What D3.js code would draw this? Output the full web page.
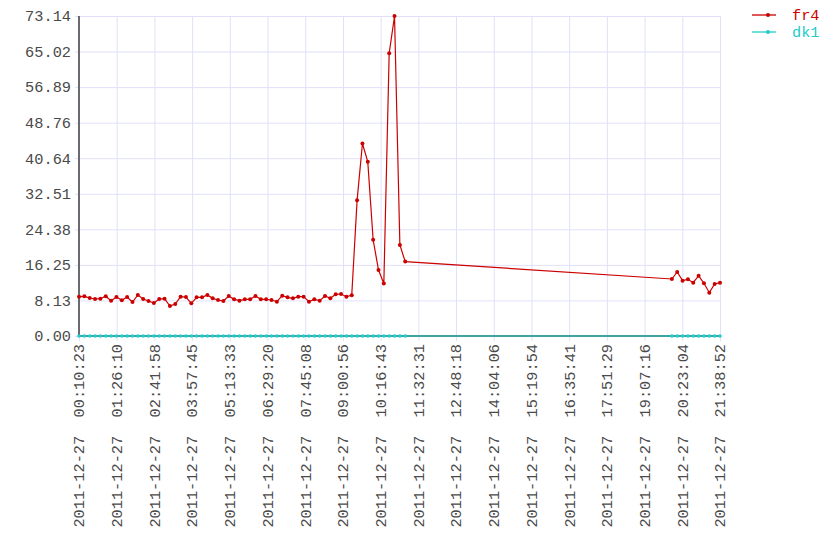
<!DOCTYPE html>
<html>
<head>
<meta charset="utf-8">
<script src="https://cdn.jsdelivr.net/npm/d3@7"></script>
<style>
    body { margin: 0; background: #fff; }
    svg text { font-family: "Liberation Mono", "DejaVu Sans Mono", monospace; fill: #4a4a4a; white-space: pre; }
</style>
</head>
<body>
<svg id="chart" width="840" height="560"></svg>
<script>
// Sample times (2011-12-27) and values for fr4
var fr4Times = [
    "00:10:23","00:21:08","00:31:53","00:42:38","00:53:23","01:04:08","01:14:53","01:25:38",
    "01:36:23","01:47:08","01:57:53","02:08:38","02:19:23","02:30:08","02:40:53","02:51:38",
    "03:02:23","03:13:08","03:23:53","03:34:38","03:45:23","03:56:08","04:06:53","04:17:38",
    "04:28:23","04:39:08","04:49:53","05:00:38","05:11:23","05:22:08","05:32:53","05:43:38",
    "05:54:23","06:05:08","06:15:53","06:26:38","06:37:23","06:48:08","06:58:53","07:09:38",
    "07:20:23","07:31:08","07:41:53","07:52:38","08:03:23","08:14:08","08:24:53","08:35:38",
    "08:46:23","08:57:08","09:07:53","09:18:38","09:29:23","09:40:08","09:50:53","10:01:38",
    "10:12:23","10:23:08","10:33:53","10:44:38","10:55:23","11:06:08",
    "20:02:07","20:12:52","20:23:37","20:34:22","20:45:07","20:55:52","21:06:37","21:17:22",
    "21:28:07","21:38:52"
];

var fr4Values = [
    8.99, 9.07, 8.69, 8.46, 8.53, 9.07, 8.07, 8.91,
    8.15, 8.91, 7.77, 9.37, 8.46, 8.00, 7.54, 8.46,
    8.53, 6.86, 7.31, 8.99, 8.91, 7.47, 8.84, 8.84,
    9.37, 8.61, 8.23, 8.00, 9.14, 8.38, 8.07, 8.38,
    8.38, 9.14, 8.38, 8.38, 8.23, 7.85, 9.22, 8.84,
    8.61, 8.99, 8.99, 7.85, 8.38, 8.07, 9.14, 8.61,
    9.52, 9.60, 8.99, 9.29, 31.0, 44.0, 39.8, 22.0,
    15.1, 12.0, 64.6, 73.14, 20.8, 17.0,
    13.03, 14.63, 12.65, 12.95, 12.19, 13.79, 12.04, 9.90,
    11.89, 12.19
];

// dk1 sits at zero over the same samples
var dk1Values = [
    0,0,0,0,0,0,0,0, 0,0,0,0,0,0,0,0, 0,0,0,0,0,0,0,0, 0,0,0,0,0,0,0,0,
    0,0,0,0,0,0,0,0, 0,0,0,0,0,0,0,0, 0,0,0,0,0,0,0,0, 0,0,0,0,0,0,
    0,0,0,0,0,0,0,0, 0,0
];

var yTicks = [0.00, 8.13, 16.25, 24.38, 32.51, 40.64, 48.76, 56.89, 65.02, 73.14];

var xTickLabels = [
    "00:10:23","01:26:10","02:41:58","03:57:45","05:13:33","06:29:20",
    "07:45:08","09:00:56","10:16:43","11:32:31","12:48:18","14:04:06",
    "15:19:54","16:35:41","17:51:29","19:07:16","20:23:04","21:38:52"
];

var seriesNames = ["fr4", "dk1"];
var seriesColors = ["#cc0000", "#22cccc"];

var parseTime = d3.timeParse("%Y-%m-%d %H:%M:%S");
var fmt = d3.timeFormat("%Y-%m-%d  %H:%M:%S");
var day = "2011-12-27 ";

var times = fr4Times.map(function(t) { return parseTime(day + t); });
var tickDates = xTickLabels.map(function(t) { return parseTime(day + t); });

const margin = {top: 16, left: 79, right: 120, bottom: 224};
const width = 840 - margin.left - margin.right;
const height = 560 - margin.top - margin.bottom;

var x = d3.scaleTime()
    .domain([tickDates[0], tickDates[tickDates.length - 1]])
    .range([0, width]);

var y = d3.scaleLinear()
    .domain([0, 73.14])
    .range([height, 0]);

var svg = d3.select("#chart")
    .append("g")
    .attr("transform", `translate(${margin.left}, ${margin.top})`);

// Grid + ticks
var gridColor = "#e0e0fa";

svg.append("g")
    .call(d3.axisBottom(x).tickValues(tickDates).tickSize(-height - 5).tickFormat(""))
    .attr("transform", `translate(0, ${height + 5})`)
    .call(g => g.select(".domain").remove())
    .call(g => g.selectAll("line").attr("stroke", gridColor));

svg.append("g")
    .attr("transform", "translate(-4, 0)")
    .call(d3.axisLeft(y).tickValues(yTicks).tickSize(-width - 4).tickFormat(""))
    .call(g => g.select(".domain").remove())
    .call(g => g.selectAll("line").attr("stroke", gridColor));

// Y labels
svg.append("g")
    .selectAll("text")
    .data(yTicks)
    .join("text")
    .attr("x", -8)
    .attr("y", function(d) { return y(d); })
    .attr("dy", "0.35em")
    .attr("text-anchor", "end")
    .style("font-size", "15.3px")
    .text(function(d) { return d.toFixed(2); });

// X labels, rotated
svg.append("g")
    .selectAll("text")
    .data(tickDates)
    .join("text")
    .attr("transform", function(d) { return `translate(${x(d)}, ${height + 8}) rotate(-90)`; })
    .attr("dy", "0.35em")
    .attr("text-anchor", "end")
    .style("font-size", "15.3px")
    .text(function(d) { return fmt(d); });

// Axis lines
svg.append("line")
    .attr("x1", 0).attr("x2", width)
    .attr("y1", height).attr("y2", height)
    .attr("stroke", "#666").attr("stroke-width", 2);

svg.append("line")
    .attr("x1", 0).attr("x2", 0)
    .attr("y1", 0).attr("y2", height)
    .attr("stroke", "#6a6a70").attr("stroke-width", 2);

var line = d3.line()
    .x(function(d) { return x(d.t); })
    .y(function(d) { return y(d.v); });

var fr4 = times.map(function(t, i) { return {t: t, v: fr4Values[i]}; });
var dk1 = times.map(function(t, i) { return {t: t, v: dk1Values[i]}; });

// dk1 line over the axis
svg.append("path")
    .datum(dk1)
    .attr("fill", "none")
    .attr("stroke", seriesColors[1])
    .attr("stroke-opacity", 0.6)
    .attr("stroke-width", 2)
    .attr("d", line);

svg.append("g")
    .selectAll("circle")
    .data(dk1)
    .join("circle")
    .attr("cx", function(d) { return x(d.t); })
    .attr("cy", function(d) { return y(d.v); })
    .attr("r", 1.8)
    .attr("fill", seriesColors[1]);

// fr4 line
svg.append("path")
    .datum(fr4)
    .attr("fill", "none")
    .attr("stroke", seriesColors[0])
    .attr("stroke-width", 1.2)
    .attr("d", line);

svg.append("g")
    .selectAll("circle")
    .data(fr4)
    .join("circle")
    .attr("cx", function(d) { return x(d.t); })
    .attr("cy", function(d) { return y(d.v); })
    .attr("r", 2)
    .attr("fill", seriesColors[0]);

// Legend
var legend = d3.select("#chart")
    .append("g")
    .selectAll("g")
    .data(seriesNames)
    .join("g")
    .attr("transform", function(d, i) { return `translate(752, ${15 + i * 17})`; });

legend.append("line")
    .attr("x1", 0).attr("x2", 24)
    .attr("y1", 0).attr("y2", 0)
    .attr("stroke", function(d, i) { return seriesColors[i]; })
    .attr("stroke-opacity", 0.65)
    .attr("stroke-width", 2);

legend.append("circle")
    .attr("cx", 16)
    .attr("r", 2)
    .attr("fill", function(d, i) { return seriesColors[i]; });

legend.append("text")
    .attr("x", 40)
    .attr("dy", "0.35em")
    .style("font-size", "15.3px")
    .style("fill", function(d, i) { return seriesColors[i]; })
    .text(function(d) { return d; });
</script>
</body>
</html>
